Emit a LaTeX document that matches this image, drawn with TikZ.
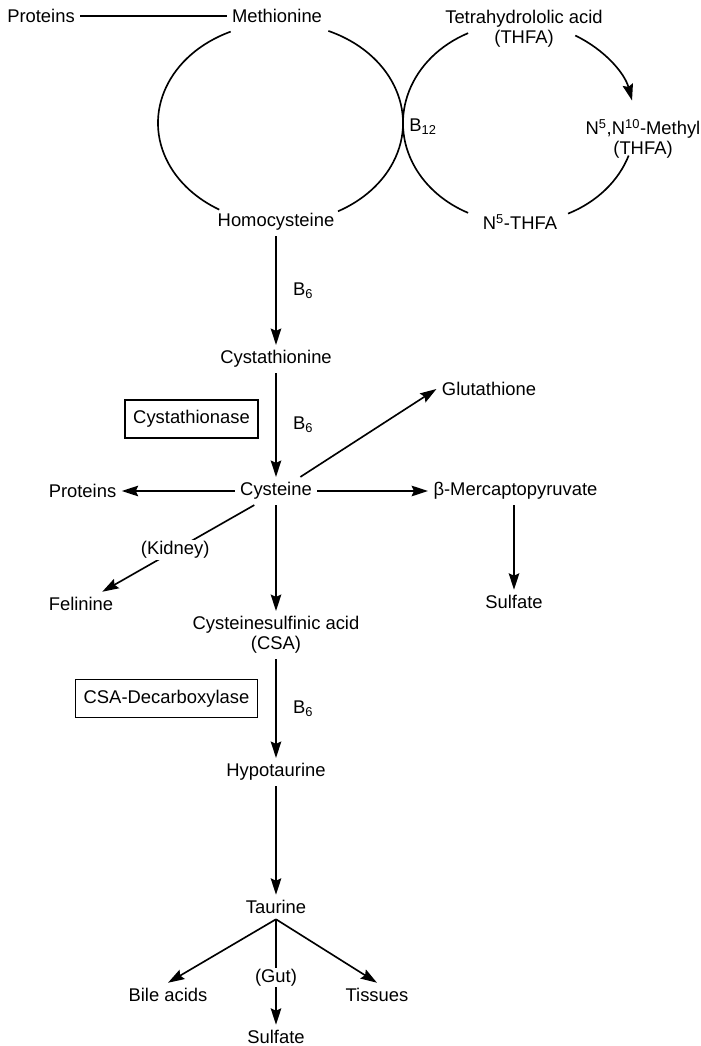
\documentclass[tikz,border=0pt]{standalone}
\usepackage{fontspec}
\setmainfont{Liberation Sans}
\usetikzlibrary{arrows.meta}

\begin{document}
\begin{tikzpicture}[x=0.03cm,y=-0.03cm,line width=1.4pt,
		every node/.style={font=\fontsize{15.7}{17}\selectfont,inner sep=4pt},
		arr/.style={-{Stealth[length=14pt,width=9pt,inset=2pt]}},
		enzyme/.style={draw,line width=1.3pt,minimum height=1.14cm,inner xsep=7pt}]
	\useasboundingbox (0,0) rectangle (700,1046);
	\coordinate (lc) at (280.5,123);
	\coordinate (rc) at (519,123);
	\node (protA) at (41,16) {Proteins};
	\node (met) at (277,16) {Methionine};
	\node (hcy) at (276,222) {Homocysteine};
	\node (thfa) at (524,29) [align=center] {Tetrahydrololic acid\\(THFA)};
	\node (mthfa) at (643,139) [align=center] {N\textsuperscript{5},N\textsuperscript{10}-Methyl\\(THFA)};
	\node (nthfa) at (520,222) {N\textsuperscript{5}-THFA};
	\node (bxii) at (423,127) {B\textsubscript{12}};
	\draw (protA) -- (met);
	\draw ([shift={(-114:122.5 and 100)}]lc) arc[start angle=-114, end angle=-240, x radius=122.5, y radius=100];
	\draw ([shift={(-67:122.5 and 100)}]lc) arc[start angle=-67, end angle=62, x radius=122.5, y radius=100];
	\draw ([shift={(-116:116 and 100)}]rc) arc[start angle=-116, end angle=-244, x radius=116, y radius=100];
	\draw[arr] ([shift={(-61:116 and 100)}]rc) arc[start angle=-61, end angle=-13, x radius=116, y radius=100];
	\draw ([shift={(19:116 and 100)}]rc) arc[start angle=19, end angle=65, x radius=116, y radius=100];

	\node (cth) at (276,359) {Cystathionine};
	\node[enzyme] (cthase) at (191.5,419) {Cystathionase};
	\node (cys) at (276,491) {Cysteine};
	\node (glu) at (489,389) {Glutathione};
	\node (protB) at (82.5,491) {Proteins};
	\node (merc) at (515.5,491) {β-Mercaptopyruvate};
	\node (sulA) at (514,602) {Sulfate};
	\node (fel) at (81,604) {Felinine};
	\node (csa) at (276,635) [align=center] {Cysteinesulfinic acid\\(CSA)};
	\node[enzyme] (csadc) at (166.5,698.5) {CSA-Decarboxylase};
	\node (hyp) at (276,772) {Hypotaurine};
	\node (tau) at (276,907) {Taurine};
	\node (bile) at (168,995) {Bile acids};
	\node (tis) at (377,995) {Tissues};
	\node (sulB) at (276,1037) {Sulfate};

	\draw[arr] (hcy) -- node[right=10pt] {B\textsubscript{6}} (cth);
	\draw[arr] (cth) -- node[right=10pt] {B\textsubscript{6}} (cys);
	\draw[arr] (cys.30) -- (glu.west);
	\draw[arr] (cys) -- (protB);
	\draw[arr] (cys) -- (merc);
	\draw[arr] (sulA |- merc.south) -- (sulA);
	\draw[arr] (cys.213) -- node[fill=white,inner sep=1pt,pos=0.52] {(Kidney)} (fel.30);
	\draw[arr] (cys) -- (csa);
	\draw[arr] (csa) -- node[right=10pt] {B\textsubscript{6}} (hyp);
	\draw[arr] (hyp) -- (tau);
	\draw[arr] (tau.south) -- (bile.north);
	\draw[arr] (tau.south) -- (tis.north);
	\draw[arr] (tau.south) -- node[fill=white,inner sep=1pt,pos=0.55] {(Gut)} (sulB);
\end{tikzpicture}
\end{document}
